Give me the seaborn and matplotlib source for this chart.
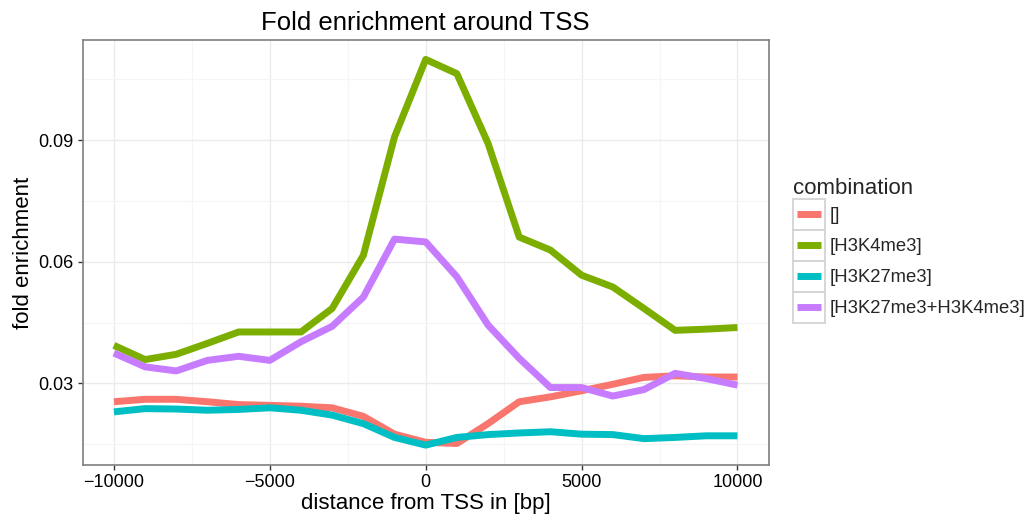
import numpy as np
import pandas as pd
import seaborn as sns
import matplotlib
matplotlib.use("Agg")
import matplotlib.pyplot as plt
from matplotlib.patches import Rectangle
from matplotlib.legend_handler import HandlerLine2D
from matplotlib.lines import Line2D

positions = list(range(-10000, 10001, 1000))
combinations = ["[]", "[H3K4me3]", "[H3K27me3]", "[H3K27me3+H3K4me3]"]
colors = ["#F8766D", "#7CAE00", "#00BFC4", "#C77CFF"]

vals_none = [0.0255, 0.0261, 0.0261, 0.0255, 0.0248, 0.0246, 0.0244, 0.0240, 0.0219, 0.0175,
             0.0155, 0.0152, 0.0201, 0.0255, 0.0267, 0.0282, 0.0298, 0.0315, 0.0319, 0.0316, 0.0316]
vals_k4 = [0.0394, 0.0359, 0.0372, 0.0399, 0.0427, 0.0427, 0.0427, 0.0485, 0.0616, 0.0908,
           0.1099, 0.1064, 0.0892, 0.0661, 0.0629, 0.0567, 0.0538, 0.0485, 0.0431, 0.0434, 0.0438]
vals_k27 = [0.0230, 0.0238, 0.0237, 0.0234, 0.0236, 0.0240, 0.0234, 0.0222, 0.0201, 0.0167,
            0.0148, 0.0167, 0.0174, 0.0178, 0.0181, 0.0175, 0.0174, 0.0164, 0.0167, 0.0171, 0.0171]
vals_both = [0.0375, 0.0341, 0.0331, 0.0357, 0.0367, 0.0357, 0.0403, 0.0441, 0.0513, 0.0656,
             0.0649, 0.0563, 0.0444, 0.0362, 0.0290, 0.0290, 0.0269, 0.0285, 0.0325, 0.0312, 0.0296]

df = pd.concat([
    pd.DataFrame({"distance": positions, "fold": v, "combination": c})
    for c, v in zip(combinations, [vals_none, vals_k4, vals_k27, vals_both])
])

sns.set_theme(style="white")
plt.rcParams["font.family"] = ["Liberation Sans", "DejaVu Sans"]

fig = plt.figure(figsize=(10.29, 5.22), dpi=100)
ax = fig.add_axes([0.0804, 0.1092, 0.747 - 0.0804, 0.9234 - 0.1092])

sns.lineplot(data=df, x="distance", y="fold", hue="combination", hue_order=combinations,
             palette=colors, linewidth=5, ax=ax, legend=False, solid_capstyle="butt")

ax.set_xlim(-11000, 11000)
ax.set_ylim(0.0099, 0.1147)
ax.set_xticks([-10000, -5000, 0, 5000, 10000])
ax.set_xticklabels(["\u221210000", "\u22125000", "0", "5000", "10000"])
ax.set_yticks([0.03, 0.06, 0.09])
ax.set_yticklabels(["0.03", "0.06", "0.09"])
ax.set_xticks([-7500, -2500, 2500, 7500], minor=True)
ax.set_yticks([0.015, 0.045, 0.075, 0.105], minor=True)
ax.grid(True, which="major", color="#EBEBEB", linewidth=1.0)
ax.grid(True, which="minor", color="#F5F5F5", linewidth=0.8)
ax.set_axisbelow(True)
ax.tick_params(axis="both", which="major", direction="out", length=3.6, width=1,
               color="#333333", labelsize=13, labelcolor="black", bottom=True, left=True, pad=3)
ax.tick_params(axis="both", which="minor", length=0)
for s in ax.spines.values():
    s.set_color("#7F7F7F")
    s.set_linewidth(1.2)

ax.set_xlabel("distance from TSS in [bp]", fontsize=16, color="black", labelpad=1)
ax.set_ylabel("fold enrichment", fontsize=16, color="black", labelpad=3)
ax.set_title("Fold enrichment around TSS", fontsize=18.5, color="black", pad=7)


class BoxHandler(HandlerLine2D):
    def create_artists(self, legend, orig_handle, xdescent, ydescent, width, height, fontsize, trans):
        artists = super().create_artists(legend, orig_handle, xdescent, ydescent, width, height, fontsize, trans)
        rect = Rectangle((-xdescent, -ydescent), width, height,
                         facecolor="white", edgecolor="#D3D3D3", linewidth=1.3, transform=trans)
        inset = 3.0
        yc = height / 2.0 - ydescent
        artists[0].set_data([-xdescent + inset, -xdescent + width - inset], [yc, yc])
        return [rect] + artists


handles = [Line2D([0], [0], color=c, linewidth=5, solid_capstyle="butt") for c in colors]
leg = fig.legend(handles, combinations, title="combination", loc="upper left",
                 bbox_to_anchor=(793 / 1029, 1 - 178 / 522), frameon=False, fontsize=13.3,
                 title_fontsize=16, handlelength=1.73, handleheight=2.2, handletextpad=0.27,
                 labelspacing=0.0, borderpad=0.0, borderaxespad=0.0, alignment="left",
                 handler_map={Line2D: BoxHandler()})

fig.savefig("out.png", dpi=100, facecolor="white")
